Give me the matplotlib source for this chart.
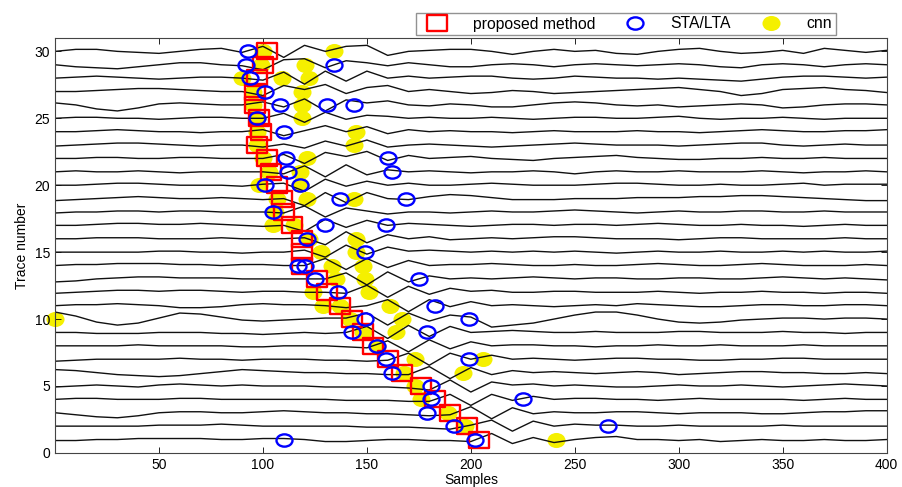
import numpy as np
import matplotlib
matplotlib.use("Agg")
import matplotlib.pyplot as plt
from matplotlib.lines import Line2D
from matplotlib.path import Path
from matplotlib.transforms import Affine2D

plt.rcParams['font.family'] = ['Liberation Sans', 'DejaVu Sans']

# samples where each trace wiggle was read (every 10 samples)
samples = np.arange(0, 401, 10)

# trace wiggles (trace units, + is up)
tr01 = [-0.05, -0.05, 0.0, 0.0, 0.05, 0.05, 0.05, 0.05, 0.0, 0.0, 0.05, 0.05, 0.0, -0.1, -0.1, -0.05, 0.0, 0.0, -0.05, -0.05, -0.1, 0.3, -0.2, 0.1, -0.15, 0.0, 0.1, 0.15, 0.0, 0.0, -0.05, 0.0, -0.1, -0.05, 0.0, -0.05, -0.05, 0.0, -0.05, -0.05, 0.0]
tr02 = [0.0, 0.0, 0.0, 0.0, 0.0, 0.05, 0.05, 0.05, 0.1, 0.05, 0.0, 0.0, 0.0, 0.0, 0.0, -0.05, -0.05, -0.05, -0.1, -0.15, 0.05, 0.3, -0.25, 0.25, 0.0, 0.1, 0.05, 0.05, 0.0, 0.0, 0.05, 0.0, 0.0, 0.0, 0.0, 0.05, 0.0, 0.0, 0.0, 0.0, 0.0]
tr03 = [0.0, -0.1, -0.2, -0.25, -0.15, 0.0, 0.05, 0.05, 0.0, 0.0, 0.05, 0.1, 0.05, 0.0, 0.0, -0.05, -0.05, -0.1, -0.15, -0.1, 0.3, -0.3, 0.25, -0.05, 0.05, 0.0, 0.0, 0.05, 0.05, 0.0, -0.05, 0.0, 0.0, 0.0, -0.05, -0.05, 0.0, 0.05, 0.05, 0.1, 0.1]
tr04 = [0.0, 0.05, 0.05, 0.0, 0.0, 0.0, 0.05, 0.05, 0.0, 0.0, 0.0, 0.0, 0.0, 0.0, -0.05, -0.05, -0.05, -0.1, -0.1, 0.25, -0.3, 0.25, -0.05, 0.15, 0.0, 0.05, 0.05, 0.0, 0.0, -0.05, 0.0, 0.05, 0.0, 0.0, 0.0, 0.0, -0.05, 0.0, 0.05, 0.0, 0.0]
tr05 = [-0.05, 0.0, 0.05, 0.0, -0.05, 0.05, 0.1, 0.05, 0.0, 0.05, 0.0, 0.0, 0.0, -0.05, -0.05, -0.05, -0.05, -0.1, -0.2, 0.3, -0.3, 0.2, 0.05, 0.1, 0.0, 0.05, 0.0, -0.05, -0.05, 0.0, 0.05, 0.0, 0.0, 0.05, 0.0, -0.05, 0.0, 0.05, 0.1, 0.05, 0.0]
tr06 = [0.15, 0.1, 0.0, -0.1, -0.15, -0.2, -0.15, -0.05, 0.05, 0.15, 0.1, 0.05, 0.0, 0.0, -0.05, -0.05, -0.1, -0.1, 0.3, -0.3, 0.25, -0.1, 0.1, 0.0, 0.05, 0.0, -0.05, 0.0, 0.05, 0.0, -0.1, -0.05, 0.0, 0.05, 0.05, 0.0, 0.0, -0.05, -0.05, 0.0, -0.05]
tr07 = [-0.1, -0.05, 0.0, 0.0, 0.0, 0.0, 0.05, 0.0, 0.0, -0.05, 0.0, 0.0, 0.0, -0.05, -0.05, -0.1, -0.05, 0.3, -0.3, 0.3, 0.0, 0.2, 0.0, 0.05, 0.0, -0.05, 0.0, 0.05, 0.05, 0.0, 0.0, -0.05, -0.05, 0.0, 0.0, 0.05, 0.05, 0.0, 0.0, 0.0, 0.0]
tr08 = [0.0, 0.0, 0.0, 0.0, 0.05, 0.0, 0.0, 0.0, 0.0, -0.05, -0.05, 0.0, 0.0, 0.0, -0.05, -0.1, 0.25, -0.3, 0.3, -0.15, 0.2, 0.0, 0.05, 0.05, 0.0, 0.0, -0.05, 0.0, 0.0, 0.05, 0.0, 0.0, 0.05, 0.0, 0.0, 0.0, 0.05, 0.0, 0.0, 0.0, 0.0]
tr09 = [0.0, 0.0, -0.05, -0.05, -0.05, 0.0, 0.0, 0.0, -0.05, -0.05, -0.1, -0.05, 0.0, -0.05, 0.0, 0.3, -0.3, 0.35, -0.2, 0.3, 0.0, 0.05, 0.1, 0.05, 0.0, 0.0, 0.05, 0.0, 0.0, 0.0, 0.05, 0.05, 0.0, 0.0, 0.0, 0.05, 0.0, 0.0, -0.05, 0.0, 0.0]
tr10 = [0.35, 0.15, -0.15, -0.3, -0.2, 0.05, 0.3, 0.25, 0.1, -0.05, -0.1, -0.05, 0.0, 0.05, 0.05, 0.3, -0.3, 0.3, -0.1, 0.2, 0.1, -0.4, -0.3, -0.2, 0.0, 0.2, 0.35, 0.35, 0.2, 0.0, -0.15, -0.2, -0.15, -0.05, 0.0, 0.05, 0.05, 0.0, 0.05, 0.05, 0.0]
tr11 = [0.0, 0.05, 0.05, 0.1, 0.05, 0.0, -0.1, -0.1, -0.05, 0.05, 0.1, 0.05, 0.05, 0.0, -0.1, 0.0, 0.3, -0.3, 0.3, -0.05, 0.2, 0.0, 0.05, 0.0, -0.05, 0.0, 0.05, 0.0, 0.1, 0.05, 0.0, -0.05, -0.05, 0.0, 0.05, 0.05, 0.0, 0.0, 0.05, 0.05, 0.0]
tr12 = [-0.05, 0.0, 0.05, 0.1, 0.1, 0.05, 0.1, 0.1, 0.05, 0.0, 0.05, 0.05, 0.0, 0.0, -0.05, 0.35, -0.25, 0.3, -0.1, 0.2, 0.05, 0.1, 0.0, 0.0, 0.05, 0.05, 0.0, 0.0, 0.0, 0.05, 0.0, -0.05, 0.0, 0.0, 0.05, 0.0, 0.0, -0.05, 0.0, 0.0, -0.05]
tr13 = [-0.15, -0.1, 0.0, 0.05, 0.1, 0.1, 0.05, 0.05, 0.05, 0.0, 0.0, 0.0, 0.0, 0.0, 0.3, -0.3, 0.35, -0.15, 0.15, 0.0, 0.05, 0.0, 0.05, 0.1, 0.05, 0.0, 0.05, 0.05, 0.0, 0.0, 0.05, 0.05, 0.0, 0.0, 0.05, 0.1, 0.05, 0.0, 0.05, 0.0, -0.05]
tr14 = [0.0, 0.05, 0.05, 0.1, 0.1, 0.1, 0.05, 0.05, 0.0, 0.05, 0.05, 0.0, 0.0, 0.35, -0.2, 0.35, -0.1, 0.25, 0.0, 0.05, 0.05, 0.1, 0.05, 0.0, 0.0, 0.05, 0.0, 0.0, 0.05, 0.1, 0.05, 0.0, 0.0, 0.05, 0.1, 0.05, 0.0, 0.0, 0.0, 0.05, 0.0]
tr15 = [0.0, 0.0, 0.0, 0.0, 0.0, 0.05, 0.05, 0.0, 0.0, -0.05, 0.0, 0.0, 0.1, -0.25, 0.35, -0.1, 0.25, 0.05, 0.1, 0.05, 0.0, 0.05, 0.0, 0.05, 0.0, 0.05, 0.0, -0.05, 0.0, 0.05, 0.0, 0.0, 0.05, 0.0, 0.0, 0.05, 0.0, 0.05, 0.0, 0.0, 0.05]
tr16 = [0.0, 0.0, 0.05, 0.05, 0.05, 0.0, 0.0, 0.0, 0.05, 0.0, 0.0, 0.0, 0.05, -0.3, 0.35, -0.2, 0.2, 0.0, 0.1, -0.05, 0.0, 0.05, 0.0, 0.05, 0.1, 0.1, 0.05, 0.0, 0.0, 0.0, -0.05, 0.0, 0.05, 0.05, 0.0, 0.0, 0.0, 0.0, 0.05, 0.0, 0.0]
tr17 = [0.0, 0.0, 0.05, 0.1, 0.1, 0.05, 0.05, 0.1, 0.05, 0.0, -0.05, 0.0, -0.3, 0.3, -0.1, 0.25, 0.0, 0.1, 0.05, 0.0, -0.05, 0.0, 0.05, 0.05, 0.0, 0.05, 0.05, 0.0, 0.05, 0.1, 0.05, 0.0, 0.0, 0.05, 0.0, 0.0, -0.05, 0.0, 0.05, 0.0, 0.0]
tr18 = [-0.05, 0.0, 0.0, 0.05, 0.05, 0.0, 0.05, 0.05, 0.0, 0.0, 0.0, -0.05, 0.3, -0.25, 0.2, 0.05, -0.1, 0.0, 0.0, -0.05, 0.0, 0.05, 0.0, 0.0, 0.05, 0.1, 0.05, 0.0, -0.05, 0.0, 0.05, 0.0, 0.0, 0.05, 0.05, 0.0, 0.0, 0.05, 0.0, 0.0, 0.0]
tr19 = [-0.1, -0.05, 0.0, 0.05, 0.1, 0.05, 0.0, 0.0, 0.05, 0.0, -0.05, 0.0, -0.35, 0.3, -0.2, 0.3, 0.0, -0.05, 0.1, 0.2, 0.15, 0.05, -0.05, -0.05, -0.05, 0.0, 0.0, 0.0, 0.05, 0.05, 0.05, 0.1, 0.1, 0.15, 0.15, 0.1, 0.05, 0.0, -0.05, -0.1, -0.1]
tr20 = [0.0, 0.0, 0.05, 0.1, 0.1, 0.05, 0.0, 0.0, 0.0, -0.05, 0.05, 0.1, -0.3, 0.3, -0.05, 0.2, 0.0, 0.1, 0.0, 0.0, 0.05, 0.1, 0.05, 0.0, 0.0, 0.0, 0.05, 0.1, 0.1, 0.05, 0.0, 0.0, 0.05, 0.0, 0.0, 0.05, 0.1, 0.0, 0.05, 0.05, 0.05]
tr21 = [0.0, 0.05, 0.0, 0.0, 0.05, 0.0, -0.05, 0.0, 0.0, 0.0, 0.0, -0.1, 0.3, -0.25, 0.35, -0.15, 0.1, 0.0, 0.05, 0.0, -0.05, 0.0, 0.0, 0.05, 0.0, -0.1, 0.0, 0.05, 0.0, 0.0, 0.05, 0.0, 0.0, 0.0, 0.05, 0.0, -0.05, 0.0, 0.0, 0.05, 0.0]
tr22 = [0.0, 0.0, 0.05, 0.05, 0.0, 0.0, 0.05, 0.05, 0.0, 0.0, 0.0, 0.2, -0.25, 0.3, 0.1, 0.35, -0.1, 0.15, 0.0, 0.05, 0.1, 0.0, -0.05, -0.1, 0.0, 0.05, 0.1, 0.15, 0.05, 0.0, -0.05, -0.05, 0.0, 0.0, 0.05, 0.0, 0.0, 0.05, 0.0, 0.0, 0.0]
tr23 = [-0.05, 0.0, 0.05, 0.1, 0.1, 0.05, 0.0, -0.05, 0.0, 0.0, -0.1, 0.05, -0.15, 0.2, -0.05, 0.25, -0.1, 0.0, 0.05, 0.0, -0.05, -0.1, -0.05, 0.0, 0.05, 0.1, 0.05, 0.0, 0.0, 0.0, -0.05, 0.0, 0.05, 0.1, 0.1, 0.0, -0.05, 0.0, 0.05, 0.0, 0.0]
tr24 = [0.0, 0.0, 0.05, 0.1, 0.05, 0.0, 0.0, -0.05, 0.0, 0.0, 0.1, -0.2, 0.05, 0.3, 0.0, 0.25, -0.1, 0.1, 0.0, 0.05, 0.0, 0.0, -0.05, 0.0, 0.05, 0.0, 0.0, 0.0, 0.05, 0.0, 0.0, -0.05, 0.0, 0.05, 0.1, 0.05, 0.0, 0.0, 0.05, 0.05, 0.1]
tr25 = [0.0, 0.05, 0.05, 0.0, 0.0, -0.05, 0.0, 0.05, 0.05, 0.0, 0.0, 0.25, -0.2, 0.3, -0.05, 0.15, 0.1, 0.0, 0.05, 0.0, 0.0, 0.05, 0.0, -0.05, 0.0, 0.05, 0.05, 0.0, 0.0, 0.05, 0.1, 0.0, -0.05, 0.0, 0.0, 0.05, 0.0, -0.05, 0.0, 0.0, 0.0]
tr26 = [0.1, 0.0, -0.2, -0.3, -0.15, 0.05, 0.1, 0.05, 0.0, 0.0, 0.15, -0.1, 0.3, -0.3, 0.25, 0.1, 0.2, 0.0, -0.05, 0.05, 0.0, -0.1, -0.1, 0.0, 0.1, 0.15, 0.1, 0.0, -0.05, 0.0, -0.1, -0.05, 0.0, 0.05, 0.0, -0.15, -0.1, 0.0, 0.05, 0.05, 0.0]
tr27 = [0.0, 0.0, 0.05, 0.1, 0.15, 0.15, 0.1, 0.05, 0.0, 0.0, -0.2, 0.3, 0.1, 0.35, -0.1, 0.2, 0.3, 0.0, 0.1, 0.0, -0.1, -0.05, 0.05, 0.0, -0.1, -0.05, 0.0, 0.05, 0.1, 0.15, 0.2, 0.1, 0.0, -0.2, -0.1, 0.1, 0.15, 0.2, 0.1, 0.05, -0.05]
tr28 = [0.0, 0.05, 0.1, 0.05, 0.0, -0.05, 0.0, 0.05, 0.05, 0.0, -0.1, 0.3, -0.3, 0.35, -0.15, 0.35, 0.0, 0.1, 0.0, 0.05, 0.1, 0.1, 0.0, -0.05, 0.0, 0.1, 0.05, 0.0, 0.0, -0.05, 0.0, -0.05, -0.1, -0.15, -0.05, 0.05, 0.1, 0.1, 0.05, 0.0, 0.05]
tr29 = [0.0, -0.1, -0.15, -0.2, -0.1, 0.0, 0.1, 0.1, 0.0, -0.05, -0.25, 0.25, 0.3, -0.15, 0.2, 0.1, -0.05, 0.1, 0.0, -0.1, -0.1, 0.0, 0.05, 0.0, -0.1, 0.0, 0.05, 0.0, -0.05, 0.0, 0.05, 0.0, -0.1, -0.15, 0.0, 0.05, 0.0, -0.1, 0.0, 0.05, 0.0]
tr30 = [0.0, 0.1, 0.1, 0.0, -0.05, -0.1, 0.0, 0.1, 0.15, -0.05, 0.25, -0.3, 0.3, 0.0, 0.25, 0.3, -0.2, 0.0, 0.05, 0.1, 0.1, 0.0, -0.15, 0.0, 0.1, 0.0, 0.05, -0.1, -0.15, 0.0, 0.1, 0.15, 0.0, -0.1, -0.05, 0.05, -0.1, 0.15, 0.05, -0.05, 0.05]

# picks of the proposed method, trace 1..30
proposed_pick = [204, 198, 190, 183, 176, 167, 160, 153, 148, 143,
                 137, 131, 126, 119, 119, 119, 114, 110, 109, 107,
                 104, 102, 97, 99, 98, 96, 96, 97, 100, 102]

# STA/LTA picks (trace, sample)
sta_trace = [30, 29, 29, 28, 27, 26, 26, 26, 25, 24, 22, 22, 21, 21, 20, 20,
             19, 19, 18, 17, 17, 16, 15, 14, 14, 13, 13, 12, 11, 10, 10,
             9, 9, 8, 7, 7, 6, 5, 4, 4, 3, 2, 2, 1, 1]
sta_sample = [93, 92, 134, 94, 101, 108, 131, 144, 97, 110, 111, 160, 112, 162, 101, 118,
              137, 169, 105, 130, 159, 121, 149, 117, 120, 125, 175, 136, 183, 149, 199,
              143, 179, 155, 159, 199, 162, 181, 181, 225, 179, 192, 266, 110, 202]

# cnn picks (trace, sample)
cnn_trace = [30, 30, 29, 29, 28, 28, 28, 27, 27, 26, 26, 25, 25, 24, 24, 23, 23,
             22, 22, 21, 21, 20, 20, 19, 19, 19, 18, 17, 17, 16, 16, 15, 15,
             14, 14, 13, 13, 12, 12, 11, 11, 11, 10, 10, 10, 9, 9, 8,
             7, 7, 6, 6, 5, 4, 3, 2, 1]
cnn_sample = [100, 134, 99, 120, 90, 109, 122, 95, 119, 95, 119, 97, 119, 97, 145, 97, 144,
              100, 121, 103, 118, 98, 118, 107, 121, 144, 106, 105, 115, 122, 145, 128, 145,
              133, 148, 135, 149, 124, 151, 129, 137, 161, 0, 142, 167, 148, 164, 155,
              173, 206, 168, 196, 173, 176, 189, 197, 241]

traces = [tr01, tr02, tr03, tr04, tr05, tr06, tr07, tr08, tr09, tr10,
          tr11, tr12, tr13, tr14, tr15, tr16, tr17, tr18, tr19, tr20,
          tr21, tr22, tr23, tr24, tr25, tr26, tr27, tr28, tr29, tr30]

# display gain for the wiggles
gain = 1.5

# stretched marker shapes (picture is wider than tall)
box = Path.unit_rectangle().transformed(Affine2D().translate(-0.5, -0.5).scale(1.35, 1.0))
ring = Path.unit_circle().transformed(Affine2D().scale(1.3, 1.0))
blob = Path.unit_circle().transformed(Affine2D().scale(1.2, 1.0))

fig = plt.figure(figsize=(9.02, 4.87), dpi=100)
ax = fig.add_axes([0.061, 0.070, 0.922, 0.852])

ax.plot(cnn_sample, cnn_trace, linestyle='none', marker=blob, ms=13,
        mfc='#f5f000', mec='none', zorder=1, clip_on=False)

for k, w in enumerate(traces, start=1):
    ax.plot(samples, k + gain * np.array(w), color='#111111', lw=1.0, zorder=2)

ax.plot(proposed_pick, range(1, 31), linestyle='none', marker=box, ms=15,
        mfc='none', mec='#ff0000', mew=1.7, zorder=3)
ax.plot(sta_sample, sta_trace, linestyle='none', marker=ring, ms=11.5,
        mfc='none', mec='#0000ff', mew=1.7, zorder=4)

ax.set_xlim(0, 400)
ax.set_ylim(0, 31)
ax.set_xticks(range(50, 401, 50))
ax.set_yticks(range(0, 31, 5))
ax.tick_params(direction='in', top=True, right=True, labelsize=10, length=4, width=0.6)
for s in ax.spines.values():
    s.set_linewidth(0.8)
    s.set_color('#444444')
ax.set_xlabel('Samples', fontsize=10, labelpad=1)
ax.set_ylabel('Trace number', fontsize=10, labelpad=4)

handles = [
    Line2D([], [], linestyle='none', marker=box, ms=15, mfc='none', mec='#ff0000', mew=1.7),
    Line2D([], [], linestyle='none', marker=ring, ms=11.5, mfc='none', mec='#0000ff', mew=1.7),
    Line2D([], [], linestyle='none', marker=blob, ms=13, mfc='#f5f000', mec='none'),
]
leg = fig.legend(handles, ['proposed method', 'STA/LTA', 'cnn'], ncol=3,
                 loc='center', bbox_to_anchor=(626 / 902, 1 - 24 / 487),
                 fontsize=11.3, frameon=True, fancybox=False, edgecolor='#777777',
                 handlelength=2.2, handletextpad=1.15, columnspacing=1.45,
                 borderpad=0.25)
leg.get_frame().set_linewidth(1.0)

fig.savefig('out.png', dpi=100)
